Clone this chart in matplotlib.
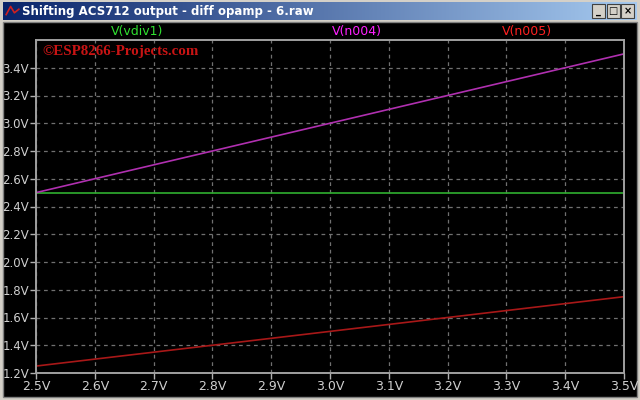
import numpy as np
import matplotlib.pyplot as plt
from matplotlib.patches import Rectangle

# *
# Data
# *
v_in      = [2.5, 3.5]
v_vdiv1   = [2.5, 2.5]
v_n004    = [2.5, 3.5]
v_n005    = [1.25, 1.75]
trace_names  = ["V(vdiv1)", "V(n004)", "V(n005)"]
trace_colors = ["#30b030", "#b030b0", "#a81818"]
label_colors = ["#30e030", "#ff20ff", "#ff2020"]
x_ticks = [2.5, 2.6, 2.7, 2.8, 2.9, 3.0, 3.1, 3.2, 3.3, 3.4, 3.5]
y_ticks = [1.2, 1.4, 1.6, 1.8, 2.0, 2.2, 2.4, 2.6, 2.8, 3.0, 3.2, 3.4]

W, H = 640, 400
sans = ["DejaVu Sans"]
fig = plt.figure(figsize=(6.4, 4.0), dpi=100, facecolor="#d4d0c8")

# window frame + black plot pane
fig.patches.append(Rectangle((3 / W, 3 / H), 634 / W, 375 / H, transform=fig.transFigure,
                             facecolor="black", edgecolor="#808080", lw=1, zorder=-5))

# title bar with gradient
tb = fig.add_axes([3 / W, 380 / H, 634 / W, 18 / H])
grad = np.linspace(0, 1, 256).reshape(1, -1)
c0 = np.array([10, 36, 106]) / 255.0
c1 = np.array([166, 202, 240]) / 255.0
img = c0 + (c1 - c0) * grad[..., None]
tb.imshow(img, aspect="auto", extent=[0, 1, 0, 1])
tb.set_axis_off()
tb.text(0.03, 0.5, "Shifting ACS712 output - diff opamp - 6.raw", color="white",
        fontsize=8.5, fontweight="bold", va="center", ha="left", family=sans)
# little icon
tb.plot([0.005, 0.012, 0.018, 0.025], [0.3, 0.75, 0.4, 0.6], color="#d02020", lw=1.2)
# window buttons
for i, sym in enumerate(["_", "□", "×"]):
    bx = 0.929 + i * 0.023
    tb.add_patch(Rectangle((bx, 0.1), 0.021, 0.8, facecolor="#d4d0c8", edgecolor="#404040", lw=0.8))
    tb.text(bx + 0.0105, 0.48, sym, ha="center", va="center", fontsize=7, color="black",
            fontweight="bold")

# main axes
ax = fig.add_axes([36 / W, 27 / H, 588 / W, 333 / H])
ax.set_facecolor("black")
ax.plot(v_in, v_vdiv1, color=trace_colors[0], lw=1.2)
ax.plot(v_in, v_n004, color=trace_colors[1], lw=1.2)
ax.plot(v_in, v_n005, color=trace_colors[2], lw=1.2)

ax.set_xlim(2.5, 3.5)
ax.set_ylim(1.2, 3.6)
ax.set_xticks(x_ticks)
ax.set_yticks(y_ticks)
ax.set_xticklabels(["{:.1f}V".format(v) for v in x_ticks], family=sans, fontsize=9)
ax.set_yticklabels(["{:.1f}V".format(v) for v in y_ticks], family=sans, fontsize=8.5)
ax.tick_params(colors="#b0b0b0", length=4, width=1, pad=1)
for lab in ax.get_xticklabels() + ax.get_yticklabels():
    lab.set_color("#d0d0d0")
ax.grid(True, color="#707070", ls=(0, (3, 3)), lw=0.9)
for s in ax.spines.values():
    s.set_color("#a0a0a0")
    s.set_linewidth(1.4)

# trace names
for name, col, xp in zip(trace_names, label_colors, [137, 357, 527]):
    fig.text(xp / W, 1 - 31 / H, name, color=col, fontsize=9, ha="center", va="center",
             family=sans)

# watermark
fig.text(42 / W, 1 - 51 / H, "©ESP8266-Projects.com", color="#c81414", fontsize=10.8,
         fontweight="bold", family=["Liberation Serif", "DejaVu Serif"], ha="left", va="center")

fig.savefig("out.png", dpi=100, facecolor=fig.get_facecolor())
